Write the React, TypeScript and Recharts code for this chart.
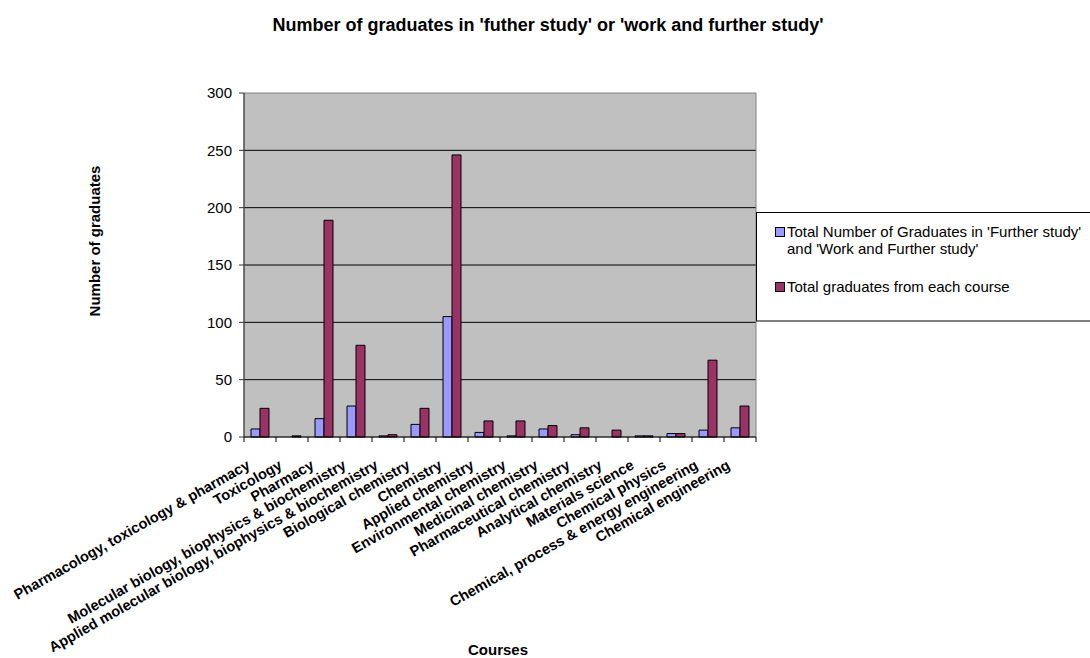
import React from 'react';
import { BarChart, Bar, XAxis, YAxis, CartesianGrid, ReferenceArea } from 'recharts';

const courses = [
  'Pharmacology, toxicology & pharmacy',
  'Toxicology',
  'Pharmacy',
  'Molecular biology, biophysics & biochemistry',
  'Applied molecular biology, biophysics & biochemistry',
  'Biological chemistry',
  'Chemistry',
  'Applied chemistry',
  'Environmental chemistry',
  'Medicinal chemistry',
  'Pharmaceutical chemistry',
  'Analytical chemistry',
  'Materials science',
  'Chemical physics',
  'Chemical, process & energy engineering',
  'Chemical engineering',
];

const furtherStudy = [7, 0, 16, 27, 1, 11, 105, 4, 1, 7, 2, 0, 1, 3, 6, 8];
const totalGraduates = [25, 1, 189, 80, 2, 25, 246, 14, 14, 10, 8, 6, 1, 3, 67, 27];

const yTicks = [0, 50, 100, 150, 200, 250, 300];
const gridValues = [50, 100, 150, 200, 250];

const seriesNames = [
  "Total Number of Graduates in 'Further study' and 'Work and Further study'",
  'Total graduates from each course',
];
const seriesColors = ['#9999FF', '#993366'];

const chartTitle = "Number of graduates in 'futher study' or 'work and further study'";
const yTitle = 'Number of graduates';
const xTitle = 'Courses';

const data = courses.map((c, i) => ({
  course: c,
  further: furtherStudy[i],
  total: totalGraduates[i],
}));

const W = 1090;
const H = 658;
const M = { top: 93, right: 334, bottom: 0, left: 184 };
const YAXIS_W = 60;
const XAXIS_H = 221;
const PLOT_W = W - M.left - YAXIS_W - M.right;
const BAND = PLOT_W / courses.length;
const FONT = "Arial, 'Liberation Sans', sans-serif";

const CourseTick = (props: any) => {
  const { x, y, payload } = props;
  const index = props.index ?? payload.index;
  const tx = x - 9;
  const ty = y + 31;
  return (
    <g>
      <line x1={x - BAND / 2} y1={y} x2={x - BAND / 2} y2={y + 5} stroke="#000" />
      {index === courses.length - 1 && (
        <line x1={x + BAND / 2} y1={y} x2={x + BAND / 2} y2={y + 5} stroke="#000" />
      )}
      <text
        x={tx}
        y={ty}
        textAnchor="end"
        transform={`rotate(-29.5 ${tx} ${ty})`}
        fontSize={14.6}
        fontWeight="bold"
        fontFamily={FONT}
        fill="#000"
      >
        {payload.value}
      </text>
    </g>
  );
};

export default function App() {
  return (
    <div
      style={{
        position: 'absolute',
        left: 0,
        top: 0,
        width: W,
        height: H,
        overflow: 'hidden',
        background: '#fff',
        fontFamily: FONT,
      }}
    >
      <BarChart
        width={W}
        height={H}
        data={data}
        margin={M}
        barGap={0}
        barSize={9}
      >
        <CartesianGrid
          horizontal
          vertical={false}
          fill="#C0C0C0"
          stroke="#000"
          horizontalValues={gridValues}
        />
        <ReferenceArea y1={0} y2={300} fill="none" stroke="#808080" strokeWidth={1} />
        <XAxis
          dataKey="course"
          height={XAXIS_H}
          interval={0}
          tickSize={0}
          tickMargin={0}
          tickLine={false}
          axisLine={{ stroke: '#000' }}
          tick={<CourseTick />}
        />
        <YAxis
          width={YAXIS_W}
          domain={[0, 300]}
          ticks={yTicks}
          interval={0}
          tickSize={5}
          tickMargin={7}
          axisLine={{ stroke: '#333' }}
          tickLine={{ stroke: '#333' }}
          tick={{ fill: '#000', fontSize: 15, fontFamily: FONT }}
        />
        <Bar dataKey="further" name={seriesNames[0]} fill={seriesColors[0]} stroke="#000" strokeWidth={1} isAnimationActive={false} />
        <Bar dataKey="total" name={seriesNames[1]} fill={seriesColors[1]} stroke="#000" strokeWidth={1} isAnimationActive={false} />
      </BarChart>

      <svg
        width={W}
        height={H}
        style={{ position: 'absolute', left: 0, top: 0, pointerEvents: 'none' }}
      >
        <text x={548} y={31} textAnchor="middle" fontSize={18} fontWeight="bold" fontFamily={FONT} fill="#000">
          {chartTitle}
        </text>
        <text
          x={100}
          y={241}
          textAnchor="middle"
          transform="rotate(-90 100 241)"
          fontSize={15}
          fontWeight="bold"
          fontFamily={FONT}
          fill="#000"
        >
          {yTitle}
        </text>
        <text x={498} y={655} textAnchor="middle" fontSize={15} fontWeight="bold" fontFamily={FONT} fill="#000">
          {xTitle}
        </text>
      </svg>

      <div
        style={{
          position: 'absolute',
          left: 756,
          top: 212,
          width: 400,
          height: 110,
          boxSizing: 'border-box',
          borderTop: '1px solid #000',
          borderLeft: '1px solid #000',
          borderBottom: '2px solid #7f7f7f',
          background: '#fff',
          paddingTop: 10,
          paddingLeft: 18,
          fontSize: 15,
          lineHeight: '17px',
          color: '#000',
        }}
      >
        {seriesNames.map((name, i) => (
          <div key={name} style={{ display: 'flex', alignItems: 'flex-start', marginBottom: 21 }}>
            <div
              style={{
                width: 10,
                height: 10,
                boxSizing: 'border-box',
                border: '1px solid #000',
                background: seriesColors[i],
                marginTop: 4,
                marginRight: 2,
                flex: 'none',
              }}
            />
            <div style={{ width: 300 }}>{name}</div>
          </div>
        ))}
      </div>
    </div>
  );
}
